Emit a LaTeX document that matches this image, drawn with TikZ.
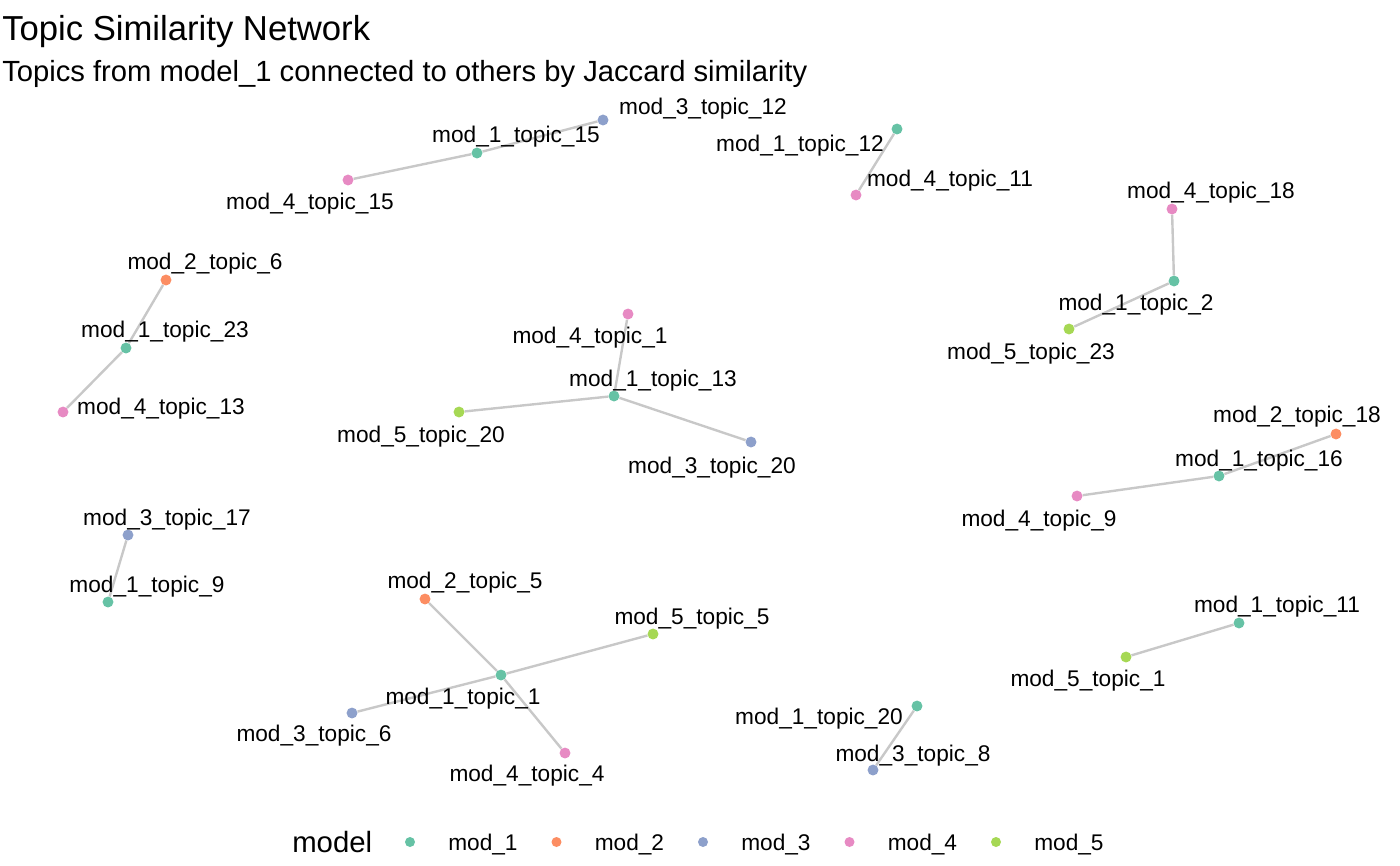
\documentclass[tikz,border=0pt]{standalone}
\usepackage{fontspec}
\setmainfont{Liberation Sans}
\usetikzlibrary{backgrounds}
\definecolor{modone}{HTML}{66C2A5}
\definecolor{modtwo}{HTML}{FC8D62}
\definecolor{modthree}{HTML}{8DA0CB}
\definecolor{modfour}{HTML}{E78AC3}
\definecolor{modfive}{HTML}{A6D854}
\definecolor{linkgray}{HTML}{C8C8C8}
\tikzset{
  topic/.style={circle,inner sep=0pt,minimum size=8.2pt,fill=#1},
  lbl/.style={font=\fontsize{17}{20}\selectfont,inner sep=0pt,text height=12.2pt,text depth=0pt},
  link/.style={draw=linkgray,line width=1.8pt},
}
\begin{document}
\begin{tikzpicture}[x=0.75pt,y=-0.75pt]
  \useasboundingbox (0,0) rectangle (1400,865);
  % titles
  \node[anchor=base west,inner sep=0pt,font=\fontsize{26}{30}\selectfont] (title) at (2,40) {Topic Similarity Network};
  \node[anchor=base west,inner sep=0pt,font=\fontsize{21.9}{26}\selectfont] (subtitle) at (2,81) {Topics from model\_1 connected to others by Jaccard similarity};
  % topics
  \node[topic=modthree] (m3t12) at (603,120) {};
  \node[topic=modone]   (m1t15) at (477,153) {};
  \node[topic=modfour]  (m4t15) at (348,180) {};
  \node[topic=modone]   (m1t12) at (897,129) {};
  \node[topic=modfour]  (m4t11) at (856,195) {};
  \node[topic=modfour]  (m4t18) at (1172,209) {};
  \node[topic=modone]   (m1t2)  at (1174,281) {};
  \node[topic=modfive]  (m5t23) at (1069,329) {};
  \node[topic=modtwo]   (m2t6)  at (166,280) {};
  \node[topic=modone]   (m1t23) at (126,348) {};
  \node[topic=modfour]  (m4t13) at (63,412) {};
  \node[topic=modfour]  (m4t1)  at (628,314) {};
  \node[topic=modone]   (m1t13) at (614,396) {};
  \node[topic=modfive]  (m5t20) at (459,412) {};
  \node[topic=modthree] (m3t20) at (751,442) {};
  \node[topic=modtwo]   (m2t18) at (1336,434) {};
  \node[topic=modone]   (m1t16) at (1219,476) {};
  \node[topic=modfour]  (m4t9)  at (1077,496) {};
  \node[topic=modthree] (m3t17) at (128,535) {};
  \node[topic=modone]   (m1t9)  at (108,602) {};
  \node[topic=modtwo]   (m2t5)  at (425,599) {};
  \node[topic=modfive]  (m5t5)  at (653,634) {};
  \node[topic=modone]   (m1t1)  at (501,675) {};
  \node[topic=modthree] (m3t6)  at (352,713) {};
  \node[topic=modfour]  (m4t4)  at (565,753) {};
  \node[topic=modone]   (m1t11) at (1239,623) {};
  \node[topic=modfive]  (m5t1)  at (1126,657) {};
  \node[topic=modone]   (m1t20) at (917,706) {};
  \node[topic=modthree] (m3t8)  at (873,770) {};
  % links
  \begin{scope}[on background layer]
    \draw[link] (m1t15) -- (m3t12);
    \draw[link] (m1t15) -- (m4t15);
    \draw[link] (m1t12) -- (m4t11);
    \draw[link] (m1t2) -- (m4t18);
    \draw[link] (m1t2) -- (m5t23);
    \draw[link] (m1t23) -- (m2t6);
    \draw[link] (m1t23) -- (m4t13);
    \draw[link] (m1t13) -- (m4t1);
    \draw[link] (m1t13) -- (m5t20);
    \draw[link] (m1t13) -- (m3t20);
    \draw[link] (m1t16) -- (m2t18);
    \draw[link] (m1t16) -- (m4t9);
    \draw[link] (m1t9) -- (m3t17);
    \draw[link] (m1t1) -- (m2t5);
    \draw[link] (m1t1) -- (m5t5);
    \draw[link] (m1t1) -- (m3t6);
    \draw[link] (m1t1) -- (m4t4);
    \draw[link] (m1t11) -- (m5t1);
    \draw[link] (m1t20) -- (m3t8);
  \end{scope}
  % labels
  \node[lbl] (l-m3t12) at (703,106) {mod\_3\_topic\_12};
  \node[lbl] (l-m1t15) at (516,134) {mod\_1\_topic\_15};
  \node[lbl] (l-m4t15) at (310,201) {mod\_4\_topic\_15};
  \node[lbl] (l-m1t12) at (800,143) {mod\_1\_topic\_12};
  \node[lbl] (l-m4t11) at (950,178) {mod\_4\_topic\_11};
  \node[lbl] (l-m4t18) at (1211,190) {mod\_4\_topic\_18};
  \node[lbl] (l-m1t2)  at (1136,302) {mod\_1\_topic\_2};
  \node[lbl] (l-m5t23) at (1031,351) {mod\_5\_topic\_23};
  \node[lbl] (l-m2t6)  at (205,261) {mod\_2\_topic\_6};
  \node[lbl] (l-m1t23) at (165,329) {mod\_1\_topic\_23};
  \node[lbl] (l-m4t13) at (161,406) {mod\_4\_topic\_13};
  \node[lbl] (l-m4t1)  at (590,335) {mod\_4\_topic\_1};
  \node[lbl] (l-m1t13) at (653,378) {mod\_1\_topic\_13};
  \node[lbl] (l-m5t20) at (421,434) {mod\_5\_topic\_20};
  \node[lbl] (l-m3t20) at (712,465) {mod\_3\_topic\_20};
  \node[lbl] (l-m2t18) at (1297,414) {mod\_2\_topic\_18};
  \node[lbl] (l-m1t16) at (1259,458) {mod\_1\_topic\_16};
  \node[lbl] (l-m4t9)  at (1039,518) {mod\_4\_topic\_9};
  \node[lbl] (l-m3t17) at (167,517) {mod\_3\_topic\_17};
  \node[lbl] (l-m1t9)  at (147,584) {mod\_1\_topic\_9};
  \node[lbl] (l-m2t5)  at (465,580) {mod\_2\_topic\_5};
  \node[lbl] (l-m5t5)  at (692,616) {mod\_5\_topic\_5};
  \node[lbl] (l-m1t1)  at (463,696) {mod\_1\_topic\_1};
  \node[lbl] (l-m3t6)  at (314,733) {mod\_3\_topic\_6};
  \node[lbl] (l-m4t4)  at (527,773) {mod\_4\_topic\_4};
  \node[lbl] (l-m1t11) at (1277,604) {mod\_1\_topic\_11};
  \node[lbl] (l-m5t1)  at (1088,678) {mod\_5\_topic\_1};
  \node[lbl] (l-m1t20) at (819,716) {mod\_1\_topic\_20};
  \node[lbl] (l-m3t8)  at (913,753) {mod\_3\_topic\_8};
  % legend
  \node[anchor=base west,inner sep=0pt,font=\fontsize{22}{26}\selectfont] (legtitle) at (292,852) {model};
  \foreach \c/\n [count=\i from 0] in {modone/1,modtwo/2,modthree/3,modfour/4,modfive/5}{
    \node[topic=\c,minimum size=7.5pt] (key\n) at (410+146.5*\i,842) {};
    \node[lbl,anchor=west] (keylbl\n) at (448+146.5*\i,842) {mod\_\n};
  }
\end{tikzpicture}
\end{document}
